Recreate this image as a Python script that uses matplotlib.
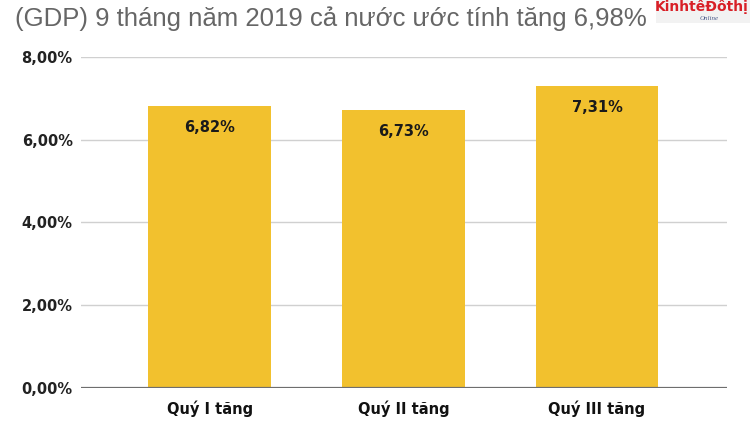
import matplotlib
matplotlib.use('Agg')
import matplotlib.pyplot as plt

# data
categories = ['Quý I tăng', 'Quý II tăng', 'Quý III tăng']
values = [6.82, 6.73, 7.31]
yticks = [0, 2, 4, 6, 8]
title = '(GDP) 9 tháng năm 2019 cả nước ước tính tăng 6,98%'

plt.rcParams['font.family'] = ['Liberation Sans', 'DejaVu Sans']
bold_font = ['DejaVu Sans']

fig = plt.figure(figsize=(7.5, 4.22), dpi=100)
ax = fig.add_axes([0.108, 0.0806, 0.861, 0.7844])

x = range(len(categories))
ax.bar(x, values, width=0.635, color='#F2C12E', zorder=3)

for i, v in zip(x, values):
    ax.text(i, v - 0.34, ('%.2f%%' % v).replace('.', ','), ha='center', va='top',
            fontsize=10.5, fontweight='bold', color='#1a1a1a', zorder=4, family=bold_font)

ax.set_ylim(0, 8)
ax.set_xlim(-0.665, 2.67)
ax.set_yticks(yticks)
ax.set_yticklabels(['%d,00%%' % t for t in yticks], fontsize=10.5, fontweight='bold',
                   color='#222222', family=bold_font)
ax.set_xticks(list(x))
ax.set_xticklabels(categories, fontsize=10.5, fontweight='bold', color='#111111', family=bold_font)

ax.grid(axis='y', color='#d0d0d0', linewidth=1, zorder=0)
ax.axhline(0, color='#6e6e6e', linewidth=1.6, zorder=5)
for s in ax.spines.values():
    s.set_visible(False)
ax.tick_params(axis='y', length=0, pad=6)
ax.tick_params(axis='x', length=0, pad=9)

fig.text(0.02, 0.955, title, fontsize=18.5, color='#666666', ha='left', va='center')

# logo
fig.patches.append(plt.Rectangle((0.875, 0.945), 0.125, 0.055, transform=fig.transFigure,
                                 facecolor='#f2f2f2', edgecolor='none', zorder=0))
fig.text(0.935, 0.985, 'KinhtếĐôthị', fontsize=10, fontweight='bold', color='#d81f26',
         ha='center', va='center', family=['DejaVu Sans Condensed', 'DejaVu Sans'])
fig.text(0.945, 0.955, 'Online', fontsize=5, style='italic', color='#4a5a8a',
         ha='center', va='center', family=['Liberation Serif'])

fig.savefig('out.png', dpi=100, facecolor='white')
